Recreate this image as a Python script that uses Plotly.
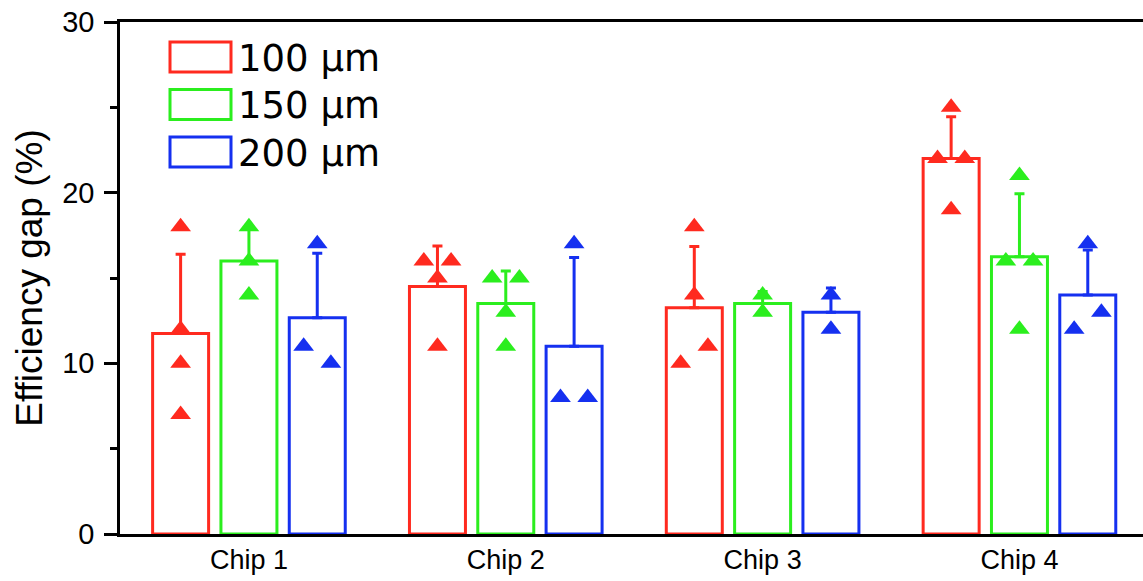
import numpy as np
import plotly.graph_objects as go

# ---- data ----
chips = ["Chip 1", "Chip 2", "Chip 3", "Chip 4"]
series_names = ["100 µm", "150 µm", "200 µm"]

pts_100 = [[18, 12, 10, 7], [16, 16, 15, 11], [18, 14, 10, 11], [25, 22, 22, 19]]
pts_150 = [[18, 16, 14], [15, 15, 13, 11], [14, 13], [21, 16, 16, 12]]
pts_200 = [[17, 11, 10], [17, 8, 8], [14, 12], [17, 12, 13]]

# horizontal jitter slots of the individual points (-1 left, 0 centre, +1 right)
jit_100 = [[0, 0, 0, 0], [-1, 1, 0, 0], [0, 0, -1, 1], [0, -1, 1, 0]]
jit_150 = [[0, 0, 0], [-1, 1, 0, 0], [0, 0], [0, -1, 1, 0]]
jit_200 = [[0, -1, 1], [0, -1, 1], [0, 0], [0, -1, 1]]

colors = ["#FF2A1F", "#2BEE1E", "#1530F0"]

# ---- styling constants ----
group_off = [-0.266, 0.0, 0.266]
bar_w = 0.218
jit_step = 0.053
FONT = "Liberation Sans, Arial, sans-serif"

fig = go.Figure()
all_pts = [pts_100, pts_150, pts_200]
all_jit = [jit_100, jit_150, jit_200]

for s in range(3):
    means = [float(np.mean(p)) for p in all_pts[s]]
    sds = [float(np.std(p, ddof=1)) for p in all_pts[s]]
    xs = [i + group_off[s] for i in range(len(chips))]
    fig.add_trace(go.Bar(
        x=xs, y=means, width=bar_w, name=series_names[s],
        marker=dict(color="rgba(255,255,255,0)", line=dict(color=colors[s], width=3)),
        error_y=dict(type="data", symmetric=False, array=sds,
                     arrayminus=[0] * len(sds), color=colors[s],
                     thickness=3, width=5),
        showlegend=False,
    ))

for s in range(3):
    px, py = [], []
    for i, (vals, jits) in enumerate(zip(all_pts[s], all_jit[s])):
        for v, j in zip(vals, jits):
            px.append(i + group_off[s] + j * jit_step)
            py.append(v)
    fig.add_trace(go.Scatter(
        x=px, y=py, mode="markers",
        marker=dict(symbol="triangle-up", size=18, color=colors[s]),
        showlegend=False, cliponaxis=False,
    ))

# ---- custom legend (outlined boxes + text) ----
L, T, W, H = 120, 22, 1023, 512
def px2x(p):
    return (p - L) / W
def py2y(p):
    return (T + H - p) / H

for k in range(3):
    top = 42 + k * 47.5
    fig.add_shape(type="rect", xref="paper", yref="paper",
                  x0=px2x(170), x1=px2x(231), y0=py2y(top + 30), y1=py2y(top),
                  line=dict(color=colors[k], width=3), fillcolor="rgba(0,0,0,0)")
    fig.add_annotation(xref="paper", yref="paper", x=px2x(236), y=py2y(top + 16),
                       xanchor="left", yanchor="middle", showarrow=False,
                       text=series_names[k],
                       font=dict(family="DejaVu Sans, Verdana, sans-serif", size=37, color="black"))

fig.update_layout(
    width=1143, height=581,
    margin=dict(l=L, r=0, t=T, b=581 - T - H, pad=0),
    plot_bgcolor="white", paper_bgcolor="white",
    barmode="overlay",
    font=dict(family=FONT, color="black"),
)

fig.update_xaxes(
    range=[-0.502, 3.481], tickmode="array", tickvals=list(range(len(chips))),
    ticktext=chips, ticks="", showgrid=False, zeroline=False,
    showline=True, linecolor="black", linewidth=2.5, mirror=True,
    tickfont=dict(size=27, family=FONT, color="black"),
)
fig.update_yaxes(
    range=[0, 30], tickmode="linear", tick0=0, dtick=10,
    ticks="outside", ticklen=13, tickwidth=2.5, tickcolor="black",
    minor=dict(ticks="outside", dtick=5, ticklen=7, tickwidth=2.5, tickcolor="black"),
    showgrid=False, zeroline=False, showline=True, linecolor="black", linewidth=2.5,
    tickfont=dict(size=29, family=FONT, color="black"), ticklabelstandoff=4,
    title=dict(text="Efficiency gap (%)", font=dict(size=37, family=FONT, color="black"), standoff=9),
)

fig.write_html("out.html", config={"displayModeBar": False},
               post_script="document.body.style.margin='0';")
